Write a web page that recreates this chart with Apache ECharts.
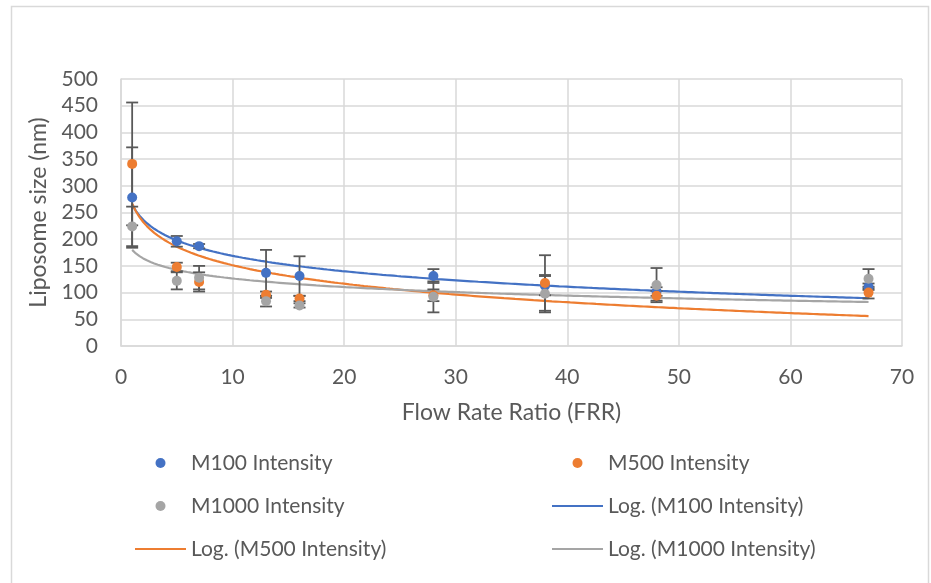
<!DOCTYPE html>
<html>
<head>
<meta charset="utf-8">
<script src="https://cdn.jsdelivr.net/npm/echarts@6/dist/echarts.min.js"></script>
<style>
  html, body { margin: 0; padding: 0; background: #fff; }
  #chart { width: 931px; height: 583px; }
</style>
</head>
<body>
<div id="chart"></div>
<script>
// Flow rate ratios (x)
const frr = [1, 5, 7, 13, 16, 28, 38, 48, 67];

// Mean liposome size (nm) and error (+/-) per formulation
const m100 = [278, 196, 187, 137, 131, 131, 113, 102, 111];
const m100Err = [94, 10, 4, 43, 37, 13, 18, 8, 6];
const m500 = [341, 148, 120, 96, 89, 95, 118, 94, 100];
const m500Err = [115, 8, 18, 6, 5, 11, 52, 9, 11];
const m1000 = [224, 122, 128, 84, 76, 92, 98, 114, 126];
const m1000Err = [37, 16, 22, 10, 4, 29, 35, 32, 18];

const yTicks = [0, 50, 100, 150, 200, 250, 300, 350, 400, 450, 500];
const xTicks = [0, 10, 20, 30, 40, 50, 60, 70];

const BLUE = '#4472C4', ORANGE = '#ED7D31', GRAY = '#A5A5A5';
const TXT = '#595959', GRID = '#D9D9D9';
const FONT = 'Lato';

// least-squares fit y = a*ln(x) + b, like Excel's logarithmic trendline
function logFit(xs, ys) {
  const lx = xs.map(Math.log);
  const n = xs.length;
  const mx = lx.reduce((s, v) => s + v, 0) / n;
  const my = ys.reduce((s, v) => s + v, 0) / n;
  let sxy = 0, sxx = 0;
  for (let i = 0; i < n; i++) {
    sxy += (lx[i] - mx) * (ys[i] - my);
    sxx += (lx[i] - mx) * (lx[i] - mx);
  }
  const a = sxy / sxx;
  const b = my - a * mx;
  const pts = [];
  const x0 = Math.min(...xs), x1 = Math.max(...xs);
  for (let k = 0; k <= 200; k++) {
    const x = x0 + (x1 - x0) * k / 200;
    pts.push([x, a * Math.log(x) + b]);
  }
  return pts;
}

function pairs(ys) { return frr.map((x, i) => [x, ys[i]]); }
function errData(ys, es) { return frr.map((x, i) => [x, ys[i] - es[i], ys[i] + es[i]]); }

function errorSeries(name, data) {
  return {
    name: name,
    type: 'custom',
    data: data,
    encode: { x: 0, y: [1, 2] },
    z: 3,
    renderItem: function (params, api) {
      const lo = api.coord([api.value(0), api.value(1)]);
      const hi = api.coord([api.value(0), api.value(2)]);
      const w = 6;
      const style = { stroke: '#595959', lineWidth: 1.8 };
      return {
        type: 'group',
        children: [
          { type: 'line', shape: { x1: lo[0], y1: lo[1], x2: hi[0], y2: hi[1] }, style: style },
          { type: 'line', shape: { x1: lo[0] - w, y1: lo[1], x2: lo[0] + w, y2: lo[1] }, style: style },
          { type: 'line', shape: { x1: hi[0] - w, y1: hi[1], x2: hi[0] + w, y2: hi[1] }, style: style }
        ]
      };
    }
  };
}

function trendSeries(name, ys, color) {
  return {
    name: name,
    type: 'line',
    data: logFit(frr, ys),
    showSymbol: false,
    smooth: false,
    z: 2,
    lineStyle: { color: color, width: 2.2 },
    itemStyle: { color: color }
  };
}

function pointSeries(name, ys, color) {
  return {
    name: name,
    type: 'scatter',
    data: pairs(ys),
    symbolSize: 10,
    z: 4,
    itemStyle: { color: color, opacity: 1 }
  };
}

const lineIcon = 'path://M0,0H51V2.2H0Z';
const legendText = { fontFamily: FONT, fontSize: 21, color: TXT, lineHeight: 24 };

const chart = echarts.init(document.getElementById('chart'), null, { renderer: 'canvas' });

const option = {
  animation: false,
  backgroundColor: '#fff',
  textStyle: { fontFamily: FONT },
  graphic: [{
    type: 'rect',
    shape: { x: 11.5, y: 6.5, width: 917, height: 600 },
    style: { fill: 'none', stroke: GRID, lineWidth: 1.5 },
    silent: true
  }],
  grid: { left: 121, right: 29, top: 79, bottom: 237, containLabel: false },
  xAxis: {
    type: 'value',
    min: xTicks[0],
    max: xTicks[xTicks.length - 1],
    interval: 10,
    name: 'Flow Rate Ratio (FRR)',
    nameLocation: 'middle',
    nameGap: 55,
    nameTextStyle: { fontFamily: FONT, fontSize: 23, color: TXT },
    axisLine: { show: true, lineStyle: { color: GRID, width: 1.5 } },
    axisTick: { show: false },
    axisLabel: { fontFamily: FONT, fontSize: 21, color: TXT, margin: 21 },
    splitLine: { show: true, lineStyle: { color: GRID, width: 1.5 } }
  },
  yAxis: {
    type: 'value',
    min: yTicks[0],
    max: yTicks[yTicks.length - 1],
    interval: 50,
    name: 'Liposome size (nm)',
    nameLocation: 'middle',
    nameGap: 70,
    nameTextStyle: { fontFamily: FONT, fontSize: 23, color: TXT },
    axisLine: { show: true, lineStyle: { color: GRID, width: 1.5 } },
    axisTick: { show: false },
    axisLabel: { fontFamily: FONT, fontSize: 21, color: TXT, margin: 23 },
    splitLine: { show: true, lineStyle: { color: GRID, width: 1.5 } }
  },
  legend: [
    {
      orient: 'vertical', left: 130, top: 446,
      itemWidth: 51, itemHeight: 10, itemGap: 19,
      textStyle: legendText,
      data: [
        { name: 'M100 Intensity', icon: 'circle' },
        { name: 'M1000 Intensity', icon: 'circle' },
        { name: 'Log. (M500 Intensity)', icon: lineIcon }
      ]
    },
    {
      orient: 'vertical', left: 547, top: 446,
      itemWidth: 51, itemHeight: 10, itemGap: 19,
      textStyle: legendText,
      data: [
        { name: 'M500 Intensity', icon: 'circle' },
        { name: 'Log. (M100 Intensity)', icon: lineIcon },
        { name: 'Log. (M1000 Intensity)', icon: lineIcon }
      ]
    }
  ],
  series: [
    trendSeries('Log. (M100 Intensity)', m100, BLUE),
    trendSeries('Log. (M500 Intensity)', m500, ORANGE),
    trendSeries('Log. (M1000 Intensity)', m1000, GRAY),
    errorSeries('M100 err', errData(m100, m100Err)),
    errorSeries('M500 err', errData(m500, m500Err)),
    errorSeries('M1000 err', errData(m1000, m1000Err)),
    pointSeries('M100 Intensity', m100, BLUE),
    pointSeries('M500 Intensity', m500, ORANGE),
    pointSeries('M1000 Intensity', m1000, GRAY)
  ]
};

chart.setOption(option);
</script>
</body>
</html>
